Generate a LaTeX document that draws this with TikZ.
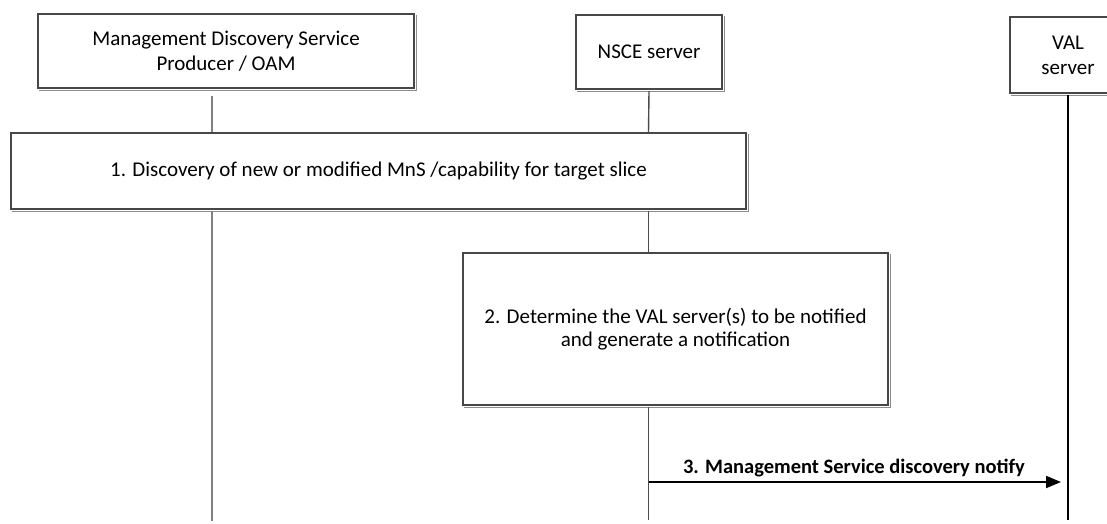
\documentclass[tikz,border=0pt]{standalone}
\usepackage{fontspec}
\setmainfont{Carlito}
\usetikzlibrary{arrows.meta,calc}
\begin{document}
\begin{tikzpicture}[x=1pt,y=-1pt,
  boxstyle/.style={draw=black!72,line width=1.3pt,fill=white,inner sep=0pt,align=center,
     font=\fontsize{21}{25}\selectfont},
  shadowline/.style={draw=black!45,line width=1.2pt},
  lifegray/.style={draw=black!50,line width=2pt},
  lifedark/.style={draw=black!70,line width=1.4pt},
  lifeblack/.style={draw=black,line width=2pt},
  msg/.style={draw=black,line width=1.8pt,-{Triangle[length=15pt,width=12pt]}},
  msglabel/.style={font=\bfseries\fontsize{20.5}{24}\selectfont,inner sep=0pt}
]
\useasboundingbox (0,0) rectangle (1107,524);
% header boxes
\node[boxstyle,minimum width=376pt,minimum height=74pt] (mds) at (226,51)
  {Management Discovery Service\\Producer / OAM};
\node[boxstyle,minimum width=146pt,minimum height=74pt] (nsce) at (649,52) {NSCE server};
\node[boxstyle,minimum width=116pt,minimum height=76pt] (val) at (1068,55) {VAL\\server};
% step boxes
\node[boxstyle,minimum width=735pt,minimum height=76pt] (s1) at (378.5,171)
  {1. Discovery of new or modified MnS /capability for target slice};
\node[boxstyle,minimum width=425pt,minimum height=152pt,font=\fontsize{21}{23}\selectfont] (s2) at (675.5,329)
  {2. Determine the VAL server(s) to be notified\\and generate a notification};
% light shadow on the lower and right edges
\foreach \b in {mds,nsce,s1,s2}{
  \draw[shadowline] ($(\b.south west)+(1.5,1.5)$) -- ($(\b.south east)+(1.5,1.5)$) -- ($(\b.north east)+(1.5,1.5)$);
}
\draw[shadowline] ($(val.south west)+(1.5,1.5)$) -- ($(val.south east)+(1.5,1.5)$);
% lifeline x positions and ends
\coordinate (mdsx) at (212,0);
\coordinate (nscex) at (648.5,0);
\coordinate (mdsend) at (212,521);
\coordinate (nsceend) at (648.5,520);
\coordinate (valend) at (1068,520);
\draw[lifegray] ($(mds.south -| mdsx)+(0,7)$) -- (s1.north -| mdsx);
\draw[lifegray] ($(s1.south -| mdsx)+(0,1.5)$) -- (mdsend);
\draw[lifedark] ($(nsce.south)+(0,1.5)$) -- (s1.north -| nscex);
\draw[lifedark] ($(s1.south -| nscex)+(0,1.5)$) -- (s2.north -| nscex);
\draw[lifedark] ($(s2.south -| nscex)+(0,1.5)$) -- (nsceend);
\draw[lifeblack] ($(val.south)+(0,1.5)$) -- (valend);
% message
\coordinate (m3s) at (648.5,482);
\coordinate (m3e) at (1061,482);
\draw[msg] (m3s) -- (m3e);
\node[msglabel] (m3l) at (854,468) {3. Management Service discovery notify};
\end{tikzpicture}
\end{document}
